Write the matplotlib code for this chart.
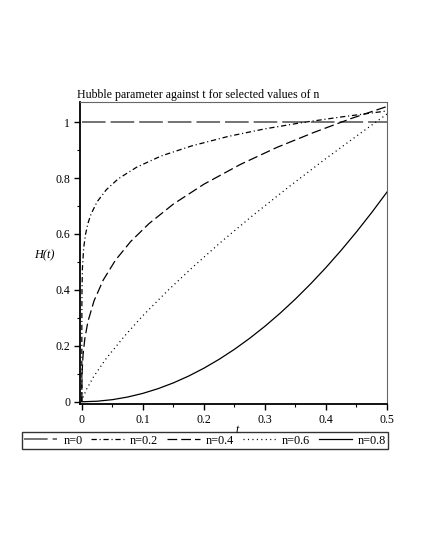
import matplotlib
matplotlib.use("Agg")
import matplotlib.pyplot as plt

plt.rcParams['font.family'] = ['Liberation Serif', 'DejaVu Serif']
plt.rcParams['lines.scale_dashes'] = False

# values
t_n0 = [0.0, 0.5]
H_n0 = [1.0, 1.0]

t_n02 = [0.0, 0.00002, 0.0002, 0.001, 0.003, 0.006, 0.01, 0.015, 0.025, 0.04,
         0.06, 0.09, 0.13, 0.18, 0.24, 0.30, 0.36, 0.42, 0.5]
H_n02 = [0.0, 0.29, 0.391, 0.478, 0.549, 0.598, 0.638, 0.671, 0.715, 0.758,
         0.798, 0.839, 0.879, 0.915, 0.949, 0.976, 0.998, 1.017, 1.040]

t_n04 = [0.0, 0.0001, 0.0005, 0.002, 0.005, 0.01, 0.02, 0.035, 0.055, 0.08,
         0.11, 0.15, 0.20, 0.26, 0.32, 0.38, 0.44, 0.5]
H_n04 = [0.0, 0.062, 0.106, 0.168, 0.227, 0.287, 0.361, 0.435, 0.506, 0.573,
         0.637, 0.707, 0.778, 0.849, 0.910, 0.963, 1.012, 1.056]

t_n06 = [0.0, 0.002, 0.008, 0.02, 0.04, 0.07, 0.10, 0.14, 0.18, 0.23,
         0.28, 0.34, 0.40, 0.45, 0.5]
H_n06 = [0.0, 0.016, 0.046, 0.092, 0.155, 0.235, 0.308, 0.396, 0.478, 0.575,
         0.666, 0.770, 0.870, 0.950, 1.029]

t_n08 = [0.0, 0.025, 0.05, 0.075, 0.10, 0.125, 0.15, 0.175, 0.20, 0.225, 0.25,
         0.275, 0.30, 0.325, 0.35, 0.375, 0.40, 0.425, 0.45, 0.475, 0.5]
H_n08 = [0.0, 0.0019, 0.0075, 0.0169, 0.030, 0.0469, 0.0675, 0.0919, 0.120, 0.1519, 0.1875,
         0.2269, 0.270, 0.3169, 0.3675, 0.4219, 0.480, 0.5419, 0.6075, 0.6769, 0.750]

labels = ['n=0', 'n=0.2', 'n=0.4', 'n=0.6', 'n=0.8']
x_ticks = [0, 0.1, 0.2, 0.3, 0.4, 0.5]
x_tick_labels = ['0', '0.1', '0.2', '0.3', '0.4', '0.5']
y_ticks = [0, 0.2, 0.4, 0.6, 0.8, 1.0]
y_tick_labels = ['0', '0.2', '0.4', '0.6', '0.8', '1']

fig = plt.figure(figsize=(4.25, 5.5), dpi=100)
ax = fig.add_axes([80 / 425, 1 - 404 / 550, 307 / 425, 302 / 550])

ax.plot(t_n0, H_n0, color='0.45', lw=1.4, dashes=(17, 3.6), label=labels[0])
ax.plot(t_n02, H_n02, color='black', lw=0.9, dashes=(3.8, 2.0, 0.8, 2.0), label=labels[1])
ax.plot(t_n04, H_n04, color='black', lw=0.9, dashes=(7.0, 2.9), label=labels[2])
ax.plot(t_n06, H_n06, color='black', lw=0.9, dashes=(0.8, 2.4), label=labels[3])
ax.plot(t_n08, H_n08, color='black', lw=0.9, label=labels[4])

ax.set_xlim(-0.003, 0.5)
ax.set_ylim(-0.008, 1.072)
ax.set_xticks(x_ticks)
ax.set_xticklabels(x_tick_labels)
ax.set_yticks(y_ticks)
ax.set_yticklabels(y_tick_labels)
ax.set_xticks([0.05, 0.15, 0.25, 0.35, 0.45], minor=True)
ax.set_yticks([0.1, 0.3, 0.5, 0.7, 0.9], minor=True)
ax.tick_params(which='major', direction='out', length=4, width=1, labelsize=8.5, pad=3)
ax.tick_params(which='minor', direction='out', length=2, width=0.8)

for side in ['left', 'bottom']:
    ax.spines[side].set_linewidth(1.3)
for side in ['top', 'right']:
    ax.spines[side].set_linewidth(0.8)
    ax.spines[side].set_color('0.4')

fig.text(77 / 425, 1 - 95 / 550, 'Hubble parameter against t for selected values of n',
         fontsize=8.6, ha='left', va='center')
fig.text(44 / 425, 1 - 255 / 550, 'H(t)', fontsize=8.8, style='italic',
         ha='center', va='center')
fig.text(237 / 425, 1 - 430 / 550, 't', fontsize=8.6, style='italic',
         ha='center', va='center')

leg = fig.legend(loc='center', bbox_to_anchor=(205 / 425, 1 - 440.5 / 550), ncol=5,
                 fontsize=8.8, frameon=True, fancybox=False, edgecolor='black',
                 handlelength=2.7, handletextpad=0.5, columnspacing=0.7,
                 borderpad=0.2, borderaxespad=0)
leg.get_frame().set_linewidth(1.0)

fig.savefig('out.png', dpi=100)
